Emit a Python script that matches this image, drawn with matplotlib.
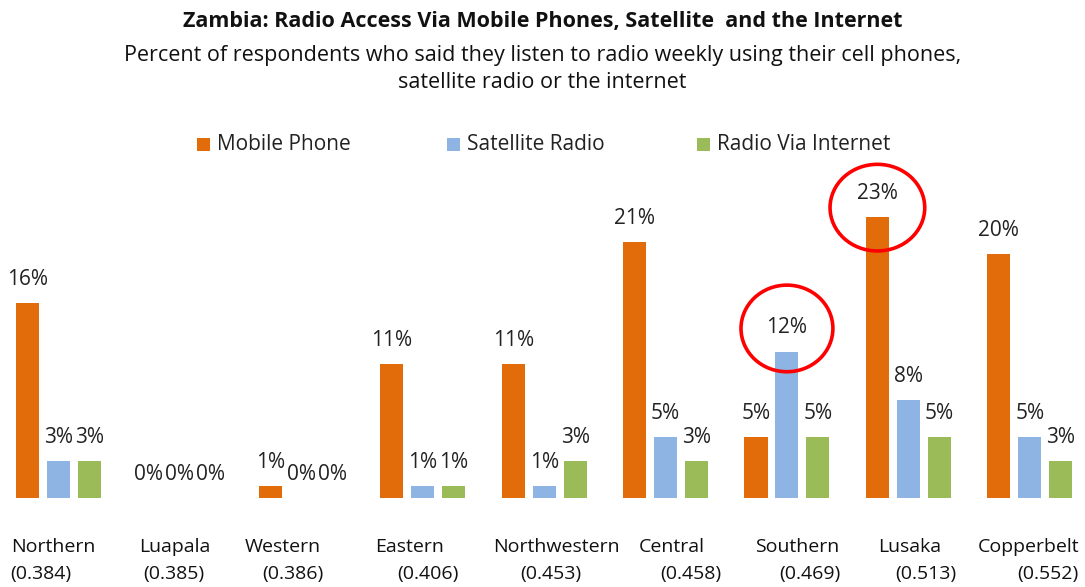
import matplotlib
matplotlib.use("Agg")
import matplotlib.pyplot as plt
from matplotlib.patches import Ellipse, Rectangle

# Region names and their index values shown under each group
regions = ["Northern", "Luapala", "Western", "Eastern", "Northwestern",
           "Central", "Southern", "Lusaka", "Copperbelt"]
region_index = ["(0.384)", "(0.385)", "(0.386)", "(0.406)", "(0.453)",
                "(0.458)", "(0.469)", "(0.513)", "(0.552)"]

# Percent who listen weekly via each channel
mobile_phone = [16, 0, 1, 11, 11, 21, 5, 23, 20]
satellite_radio = [3, 0, 0, 1, 1, 5, 12, 8, 5]
radio_via_internet = [3, 0, 0, 1, 3, 3, 5, 5, 3]

series_names = ["Mobile Phone", "Satellite Radio", "Radio Via Internet"]
series_colors = ["#E36C0A", "#8EB4E3", "#9BBB59"]

FONT = ["Open Sans", "DejaVu Sans"]
plt.rcParams["font.family"] = FONT

fig = plt.figure(figsize=(10.85, 5.87), dpi=100)
ax = fig.add_axes([0, 0.1516, 1, 0.5196])
ax.set_xlim(-0.482, 8.455)
ax.set_ylim(0, 25)
ax.axis("off")

series = [mobile_phone, satellite_radio, radio_via_internet]
offsets = [-0.255, 0.0, 0.255]
width = 0.19
xs = list(range(len(regions)))

for vals, off, col, name in zip(series, offsets, series_colors, series_names):
    ax.bar([x + off for x in xs], vals, width=width, color=col,
           label=name, clip_on=False)
    for x, v in zip(xs, vals):
        ax.annotate(f"{v}%", xy=(x + off, v), xytext=(0, 9.5),
                    textcoords="offset points", ha="center", va="bottom",
                    fontsize=15, color="#222222", annotation_clip=False)

# Category labels, two lines each, nudged horizontally
line1_dx = [-5, -5, -19, -13, 12, 6, 10, 1, -1]
line2_dx = [-18, -6, -8, 5, 7, 25, 23, 17, 18]
for x, name, idx, d1, d2 in zip(xs, regions, region_index, line1_dx, line2_dx):
    ax.annotate(name, xy=(x, 0), xycoords=("data", "axes fraction"),
                xytext=(d1 * 0.72, -35), textcoords="offset points",
                ha="center", va="center", fontsize=14, color="#111111",
                annotation_clip=False)
    ax.annotate(idx, xy=(x, 0), xycoords=("data", "axes fraction"),
                xytext=(d2 * 0.72, -55), textcoords="offset points",
                ha="center", va="center", fontsize=14, color="#111111",
                annotation_clip=False)

# Highlight circles around two bars
ax.add_patch(Ellipse((6, satellite_radio[6] + 1.9), 0.757, 7.1, fill=False,
                     edgecolor="#FF0000", linewidth=2.6, clip_on=False))
ax.add_patch(Ellipse((7 - 0.255, mobile_phone[7] + 0.8), 0.78, 7.1, fill=False,
                     edgecolor="#FF0000", linewidth=2.6, clip_on=False))

# Titles
W, H = 1085, 587
fig.text(0.5, 1 - 21 / H, "Zambia: Radio Access Via Mobile Phones, Satellite  and the Internet",
         ha="center", va="center", fontsize=15.5, fontweight="bold", color="#111111")
fig.text(0.5, 1 - 56 / H, "Percent of respondents who said they listen to radio weekly using their cell phones,",
         ha="center", va="center", fontsize=15.5, color="#111111")
fig.text(0.5, 1 - 83 / H, "satellite radio or the internet",
         ha="center", va="center", fontsize=15.5, color="#111111")

# Legend row
legend_x = [197, 447, 697]
for lx, col, name in zip(legend_x, series_colors, series_names):
    fig.patches.append(Rectangle((lx / W, 1 - 151 / H), 13 / W, 13 / H,
                                 transform=fig.transFigure, facecolor=col,
                                 edgecolor="none"))
    fig.text((lx + 20) / W, 1 - 144 / H, name, ha="left", va="center",
             fontsize=15, color="#222222")

fig.savefig("out.png", dpi=100, facecolor="white")
